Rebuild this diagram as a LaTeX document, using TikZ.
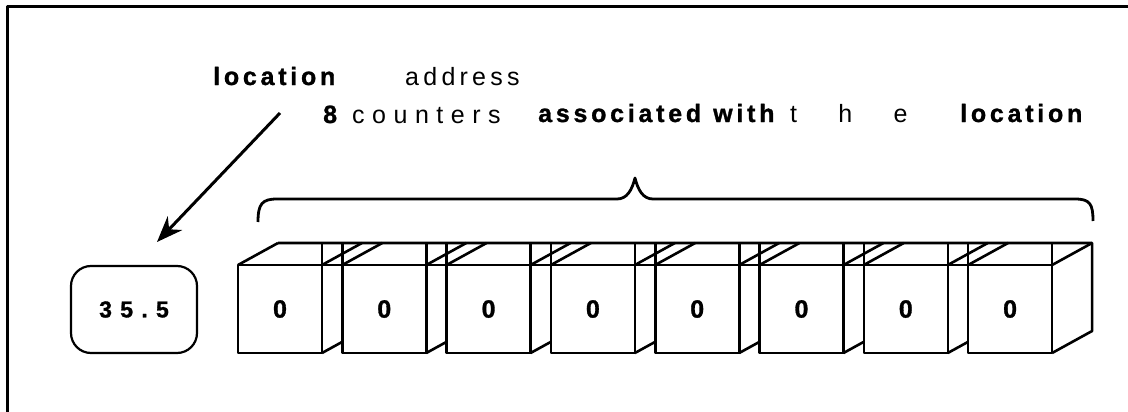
\documentclass[tikz,border=0pt]{standalone}
\usepackage{fontspec}
\setmainfont{Liberation Sans}
\usetikzlibrary{arrows.meta, positioning}

\begin{document}
\begin{tikzpicture}[x=1pt, y=-1pt, line join=round,
  heavy/.style={font=\fontsize{25}{30}\selectfont\bfseries\addfontfeature{LetterSpace=15,FakeBold=1.2}, inner sep=0pt, anchor=base west},
  light/.style={font=\fontsize{25}{30}\selectfont\addfontfeature{LetterSpace=17}, inner sep=0pt, anchor=base west},
  cube/.style={draw, line width=2.6pt, outer sep=0pt, inner sep=0pt, minimum width=84pt, minimum height=88pt, font=\fontsize{25}{30}\selectfont\bfseries\addfontfeature{FakeBold=1.2}},
  edge/.style={line width=2.6pt}]
\useasboundingbox (0,0) rectangle (1128,412);

% Frame
\draw[line width=3pt] (7,412) -- (7,7) -- (1128,7);

% Labels
\node[heavy] (loc) at (213,85) {location};
\node[light] (addr) at (405,85) {address};
\node[heavy] (eight) at (323,123) {8};
\node[light, font=\fontsize{25}{30}\selectfont\addfontfeature{LetterSpace=30}] (cnt) at (352,123) {counters};
\node[heavy] (assoc) at (538,122) {associated};
\node[heavy] (with) at (713,122) {with};
\node[light, font=\fontsize{25}{30}\selectfont\addfontfeature{LetterSpace=165}] (the) at (790,122) {the};
\node[heavy] (loc2) at (960,122) {location};

% Address value
\node[draw, rounded corners=20pt, line width=2.2pt, minimum width=126pt, minimum height=87pt,
  font=\fontsize{23}{27}\selectfont\bfseries\addfontfeature{LetterSpace=36,FakeBold=1.2}] (val) at (134,309.5) {35.5};

\coordinate (tail) at (280,113);
\coordinate (head) at (157,242);
\draw[line width=3pt, -{Stealth[length=26pt,width=20pt]}] (tail) -- (head);

% Counters
\foreach \i in {0,...,7} {
  \pgfmathsetmacro\xl{238+104.3*\i}
  \node[cube] (c\i) at (\xl+42,309) {0};
  \draw[edge] (c\i.north west) -- ++(40,-22);
  \draw[edge] (c\i.north east) -- ++(40,-22);
  \draw[edge] (c\i.north east) -- ++(0,-22);
  \ifnum\i>0 \draw[edge] (c\i.north west) -- ++(0,-22); \fi
  \ifnum\i<7 \draw[edge] (c\i.south east) -- ++(20,-11); \fi
}
\draw[edge] (c0.north west) -- (c7.north east);
\draw[edge] ([shift={(40,-22)}]c0.north west) -- ([shift={(40,-22)}]c7.north east)
  -- ++(0,88) -- (c7.south east);

% Brace
\draw[line width=2.8pt] (258,222) .. controls (258,204) and (262,199) .. (277,199)
  -- (617,199) .. controls (627,199) and (632,190) .. (635,178)
  .. controls (638,190) and (643,199) .. (653,199)
  -- (1075,199) .. controls (1090,199) and (1093,204) .. (1093,221);
\end{tikzpicture}
\end{document}
